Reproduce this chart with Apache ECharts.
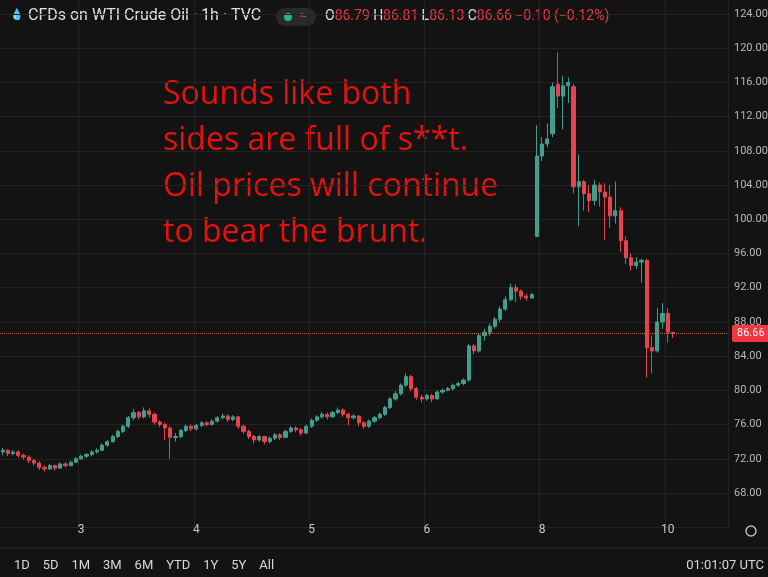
<!DOCTYPE html>
<html><head><meta charset="utf-8">
<script src="https://cdn.jsdelivr.net/npm/echarts@6/dist/echarts.min.js"></script>
<style>html,body{margin:0;background:#131313;}#c{width:768px;height:577px;}</style>
</head><body><div id="c"></div>
<script>
// candles: [open, close, low, high]
const candles = [
[72.8,73.0,72.4,73.3],[73.0,72.6,72.3,73.1],[72.6,72.8,72.4,73.0],[72.8,72.4,72.1,73.0],
[72.4,72.2,71.9,72.6],[72.2,71.8,71.5,72.4],[71.8,71.5,71.2,72.0],[71.5,71.0,70.7,71.7],
[71.0,70.8,70.5,71.2],[70.8,71.2,70.7,71.4],[71.2,70.9,70.6,71.3],[70.9,71.4,70.8,71.6],
[71.4,71.2,71.0,71.6],[71.2,71.6,71.1,71.8],[71.6,72.0,71.5,72.2],[72.0,72.3,71.9,72.5],
[72.3,72.5,72.1,72.7],[72.5,72.8,72.3,73.0],[72.8,73.0,72.6,73.2],[73.0,73.6,72.9,73.8],
[73.6,74.0,73.4,74.2],[74.0,74.6,73.9,74.8],[74.6,75.2,74.4,75.4],[75.2,75.8,75.0,76.0],
[75.8,76.8,75.6,77.0],[76.8,77.4,76.5,77.8],[77.4,76.9,76.6,77.6],[76.9,77.6,76.7,78.0],
[77.6,77.2,76.8,77.9],[77.2,76.3,76.0,77.4],[76.3,76.0,75.7,76.5],[76.0,75.6,74.2,76.2],
[75.6,74.5,72.0,75.8],[74.5,74.6,74.0,75.0],[74.6,75.3,74.4,75.5],[75.3,75.8,75.1,76.0],
[75.8,75.5,75.2,76.0],[75.5,75.9,75.3,76.1],[75.9,76.2,75.7,76.4],[76.2,76.0,75.8,76.4],
[76.0,76.4,75.9,76.6],[76.4,76.8,76.2,77.0],[76.8,77.0,76.6,77.3],[77.0,76.6,76.3,77.2],
[76.6,76.9,76.4,77.1],[76.9,75.8,75.5,77.0],[75.8,75.2,74.9,76.0],[75.2,74.6,74.3,75.4],
[74.6,74.2,73.8,74.8],[74.2,74.6,74.0,74.8],[74.6,74.0,73.7,74.7],[74.0,74.4,73.8,74.6],
[74.4,74.8,74.2,75.0],[74.8,74.5,74.2,75.0],[74.5,75.2,74.4,75.4],[75.2,75.6,75.0,75.8],
[75.6,75.4,75.1,75.8],[75.4,75.0,74.7,75.6],[75.0,75.8,74.9,76.0],[75.8,76.5,75.6,76.7],
[76.5,76.9,76.3,77.1],[76.9,77.2,76.7,77.5],[77.2,76.9,76.6,77.4],[76.9,77.4,76.8,77.6],
[77.4,77.7,77.2,78.0],[77.7,77.2,76.9,77.9],[77.2,76.8,75.9,77.4],[76.8,77.0,76.6,77.2],
[77.0,76.2,75.8,77.1],[76.2,75.8,75.5,76.4],[75.8,76.4,75.6,76.6],[76.4,76.8,76.2,77.0],
[76.8,77.2,76.6,77.4],[77.2,78.0,77.0,78.2],[78.0,79.0,77.8,79.2],[79.0,79.6,78.8,79.9],
[79.6,80.6,79.4,80.8],[80.6,81.6,80.4,82.0],[81.6,80.2,79.9,81.8],[80.2,79.2,78.9,80.4],
[79.2,79.0,78.6,79.5],[79.0,79.4,78.8,79.6],[79.4,79.0,78.6,79.6],[79.0,79.8,78.9,80.0],
[79.8,80.0,79.6,80.2],[80.0,80.2,79.9,80.4],[80.2,80.6,80.0,80.8],[80.6,80.8,80.4,81.0],
[80.8,81.2,80.6,81.4],[81.2,85.2,81.0,85.4],[85.2,84.6,84.2,85.4],[84.6,86.4,84.4,86.6],
[86.4,86.8,85.8,87.2],[86.8,87.5,86.4,87.8],[87.5,88.3,87.2,88.6],[88.3,89.5,88.0,89.8],
[89.5,90.6,89.3,91.0],[90.6,92.0,90.4,92.5],[92.0,91.6,90.3,92.4],[91.6,91.0,90.6,91.8],
[91.0,90.8,90.5,91.3],[90.8,91.2,90.7,91.4],
[98.0,107.4,98.0,111.0],[107.4,108.8,106.8,109.6],[108.8,109.4,108.4,111.2],[110.0,115.5,109.6,116.0],
[115.8,114.4,113.0,119.5],[114.4,115.6,110.5,116.8],[115.6,116.0,113.6,116.6],[115.5,103.8,103.0,115.8],
[103.8,104.4,99.2,107.6],[104.4,103.0,101.0,104.6],[103.0,102.2,100.8,104.0],[102.2,104.0,101.6,104.6],
[104.0,103.2,101.5,104.3],[103.2,102.6,97.6,104.2],[102.6,100.4,99.0,104.0],[100.4,101.0,99.5,104.4],
[101.0,97.5,96.2,101.4],[97.5,95.5,94.8,98.0],[95.5,94.6,94.0,96.0],[94.6,95.0,94.2,95.6],
[95.0,95.2,92.6,95.4],[95.2,85.0,81.5,95.4],[85.0,84.6,82.0,86.4],[84.6,88.0,84.4,89.6],
[88.0,89.0,87.2,90.2],[89.0,86.8,85.6,89.6],[86.79,86.66,86.13,86.81]
];
const dayTickIdx = [15,37,59,81,103,127];
const dayTickText = ['3','4','5','6','8','10'];
const totalSlots = 139;
const lastPrice = 86.66;

const cats = [];
for (let i=0;i<totalSlots;i++) cats.push(String(i));
const lab = {}; dayTickIdx.forEach((d,k)=>lab[d]=dayTickText[k]);
const data = candles.map(r=>[r[0],r[1],r[2],r[3]]);

const chart = echarts.init(document.getElementById('c'));
const UP='#3f9f8c', DN='#e5434f';
chart.setOption({
  backgroundColor:'#131313',
  animation:false,
  grid:{left:0,right:40,top:-20.2,bottom:49.8,outerBoundsMode:'none',containLabel:false},
  xAxis:{type:'category',data:cats,boundaryGap:true,
    axisLine:{show:false},axisTick:{show:false},
    axisLabel:{color:'#c8c8c8',fontSize:12,fontFamily:'Roboto',margin:-3,
      interval:(i)=>lab[i]!==undefined, formatter:(v)=>lab[+v]||''},
    splitLine:{show:true,interval:(i)=>lab[i]!==undefined,lineStyle:{color:'#232323'}}},
  yAxis:{type:'value',position:'right',min:64,max:128,interval:4,
    axisLine:{show:false},axisTick:{show:false},
    axisLabel:{color:'#b8b8b8',fontSize:11,fontFamily:'Roboto',margin:6,showMinLabel:false,showMaxLabel:false,
      formatter:v=>v.toFixed(2)},
    splitLine:{lineStyle:{color:'#232323'}}},
  series:[{type:'candlestick',data:data,barWidth:'70%',
    itemStyle:{color:UP,color0:DN,borderColor:UP,borderColor0:DN},
    markLine:{symbol:'none',silent:true,
      lineStyle:{color:'#c8553b',type:'dotted',width:1},
      label:{position:'end',formatter:lastPrice.toFixed(2),color:'#fff',backgroundColor:'#f23645',
        padding:[3,5],fontSize:11,fontFamily:'Roboto',distance:4,borderRadius:2},
      data:[{yAxis:lastPrice}]}}],
  graphic:[
    {type:'text',left:10,top:9,style:{text:'💧',fontSize:11,fill:'#ddd'}},
    {type:'text',left:28,top:8,style:{text:'CFDs on WTI Crude Oil · 1h · TVC',fontSize:16,fill:'#e0e0e0',fontFamily:'Roboto'}},
    {type:'rect',shape:{x:276,y:8,width:40,height:18,r:9},style:{fill:'#2a2a2a'}},
    {type:'circle',shape:{cx:288,cy:17,r:4},style:{fill:'#2bb38a'}},
    {type:'text',x:300,y:10,style:{text:'≈',fontSize:12,fill:'#e0457a'}},
    {type:'text',left:325,top:9,style:{rich:{w:{fill:'#e0e0e0',fontSize:14,fontFamily:'Roboto'},r:{fill:'#f23645',fontSize:14,fontFamily:'Roboto'}},
      text:'{w|O}{r|86.79} {w|H}{r|86.81} {w|L}{r|86.13} {w|C}{r|86.66} {r|−0.10 (−0.12%)}'}},
    {type:'text',left:163,top:72,style:{text:'Sounds like both\nsides are full of s**t.\nOil prices will continue\nto bear the brunt.',
      fontSize:32,lineHeight:46,fill:'#e3120f',fontFamily:'Open Sans'}},
    {type:'circle',shape:{cx:751,cy:531,r:5},style:{fill:'none',stroke:'#bbb',lineWidth:1.5}},
    {type:'line',shape:{x1:0,y1:548,x2:768,y2:548},style:{stroke:'#2a2a2a'}},
    {type:'text',left:14,top:559,style:{text:'1D    5D    1M    3M    6M    YTD    1Y    5Y    All',fontSize:13,fill:'#d8d8d8',fontFamily:'Roboto'}},
    {type:'text',right:4,top:559,style:{text:'01:01:07 UTC',fontSize:13,fill:'#d8d8d8',fontFamily:'Roboto'}}
  ]
});
</script></body></html>
